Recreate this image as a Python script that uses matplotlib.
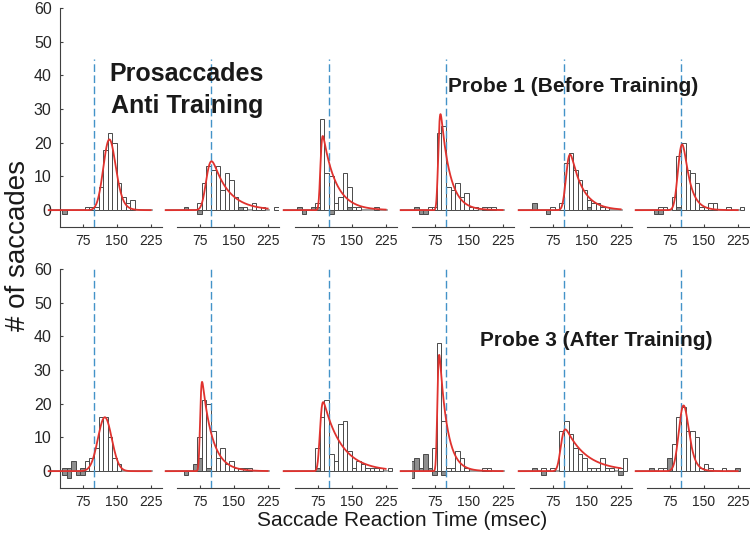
import math
import numpy as np
import matplotlib
matplotlib.use('Agg')
import matplotlib.pyplot as plt

plt.rcParams['font.family'] = ['Liberation Sans', 'DejaVu Sans']

# 10 ms bins, left edges 20..240
bin_left = np.arange(20, 250, 10)
cue_ms = 100
x_ticks = [75, 150, 225]
y_ticks = [0, 10, 20, 30, 40, 50, 60]

# correct saccades (open bars), one list per panel, left to right
white_top = [
    [0, 0, 0, 0, 0, 0, 1, 1, 1, 7, 18, 23, 20, 8, 4, 2, 3, 0, 0, 0, 0, 0, 0],
    [0, 0, 0, 0, 0, 2, 8, 13, 12, 13, 6, 11, 9, 4, 1, 1, 0, 2, 1, 1, 0, 0, 1],
    [0, 0, 0, 0, 0, 2, 27, 11, 10, 2, 4, 11, 7, 1, 1, 0, 0, 0, 1, 0, 0, 0, 0],
    [0, 0, 0, 0, 1, 1, 23, 25, 7, 6, 8, 4, 5, 1, 1, 0, 1, 1, 1, 0, 0, 0, 0],
    [0, 0, 0, 0, 0, 1, 0, 2, 14, 17, 12, 9, 6, 3, 2, 2, 1, 1, 0, 0, 0, 0, 0],
    [0, 0, 0, 1, 1, 0, 4, 16, 20, 12, 11, 8, 1, 1, 2, 2, 0, 0, 1, 0, 0, 1, 0],
]
white_bottom = [
    [0, 0, 0, 0, 0, 0, 3, 4, 7, 16, 16, 10, 4, 2, 0, 0, 0, 0, 0, 0, 0, 0, 0],
    [0, 0, 0, 0, 0, 10, 21, 20, 12, 4, 7, 2, 3, 1, 1, 1, 1, 0, 0, 0, 0, 0, 0],
    [0, 0, 0, 0, 0, 7, 16, 21, 5, 3, 14, 15, 6, 1, 3, 2, 1, 1, 1, 1, 0, 1, 0],
    [0, 0, 0, 0, 0, 7, 38, 15, 1, 1, 6, 4, 1, 0, 0, 0, 1, 1, 0, 0, 0, 0, 0],
    [0, 0, 0, 1, 0, 1, 0, 12, 15, 11, 7, 5, 4, 1, 1, 1, 4, 1, 1, 0, 1, 4, 0],
    [0, 0, 0, 1, 1, 0, 8, 16, 19, 12, 12, 10, 1, 2, 1, 0, 0, 1, 0, 0, 0, 0, 0],
]

# error saccades (grey bars) as (bin left edge, count)
gray_top = [
    [(30, -1)],
    [(40, 1), (70, -1), (160, 1)],
    [(30, 1), (40, -1), (60, 1), (70, 1), (100, -1), (140, 1)],
    [(30, 1), (40, -1), (50, -1)],
    [(30, 2), (60, -1), (150, 1)],
    [(40, -1), (50, -1), (90, 1)],
]
gray_bottom = [
    [(30, 1), (30, -1), (40, 1), (40, -2), (50, 3), (60, -1), (70, 1), (70, -1)],
    [(40, -1), (60, 2), (70, 4), (90, 1)],
    [(70, 1)],
    [(20, 3), (20, -2), (30, 4), (40, 1), (50, 5), (60, 1), (70, -1), (90, -1)],
    [(30, 1), (50, -1), (220, -1)],
    [(30, 1), (70, 4), (220, 1)],
]

# ex-Gaussian fits: mu, sigma, tau (ms) and peak height
fit_mu_top = [127, 90, 81, 83, 105, 95]
fit_sigma_top = [12, 8, 3, 3, 6, 7]
fit_tau_top = [9, 35, 28, 20, 26, 15]
fit_peak_top = [21, 14.5, 22, 28.5, 16.5, 19.5]
fit_mu_bottom = [121, 76, 80, 81, 93, 99]
fit_sigma_bottom = [15, 2.5, 4, 2.5, 6, 9]
fit_tau_bottom = [3, 22, 40, 17, 45, 10]
fit_peak_bottom = [16, 26.5, 20.5, 34.5, 12.4, 19.5]


def exgauss(x, mu, sigma, tau):
    erfc = np.vectorize(math.erfc)
    arg = (mu - x) / tau + sigma ** 2 / (2 * tau ** 2)
    return np.exp(arg) * erfc((mu + sigma ** 2 / tau - x) / (math.sqrt(2) * sigma))


W, H = 750, 543
fig = plt.figure(figsize=(W / 100, H / 100), dpi=100)

lefts = [60, 177, 295, 412, 530, 647]
row_bottom = [316, 55]
rows = [
    (white_top, gray_top, fit_mu_top, fit_sigma_top, fit_tau_top, fit_peak_top, 45),
    (white_bottom, gray_bottom, fit_mu_bottom, fit_sigma_bottom, fit_tau_bottom, fit_peak_bottom, 60),
]

xs = np.linspace(0, 225, 500)
for r, (whites, grays, mus, sigmas, taus, peaks, cue_top) in enumerate(rows):
    for c in range(6):
        ax = fig.add_axes([lefts[c] / W, row_bottom[r] / H, 102 / W, 219 / H])
        ax.set_xlim(25, 250)
        ax.set_ylim(-5, 60)
        ax.patch.set_alpha(0)

        ax.plot([0, 228], [0, 0], color='#8c8c8c', lw=1.2, clip_on=False, zorder=1)

        w = np.array(whites[c])
        keep = w != 0
        ax.bar(bin_left[keep], w[keep], width=10, align='edge', color='white',
               edgecolor='#4a4a4a', lw=0.7, zorder=2)
        gx = [b for b, v in grays[c]]
        gv = [v for b, v in grays[c]]
        ax.bar(gx, gv, width=10, align='edge', color='#8e8e8e',
               edgecolor='#4a4a4a', lw=0.7, zorder=3)

        ax.plot([cue_ms, cue_ms], [-5, cue_top], color='#4393c8', lw=1.0,
                ls=(0, (5.5, 2.5)), zorder=4)

        y = exgauss(xs, mus[c], sigmas[c], taus[c])
        y = y / y.max() * peaks[c]
        ax.plot(xs, y, color='#e0322e', lw=1.3, clip_on=False, zorder=5)

        for s in ['top', 'right']:
            ax.spines[s].set_visible(False)
        ax.spines['bottom'].set_color('#404040')
        ax.spines['left'].set_color('#404040')
        ax.set_xticks(x_ticks)
        ax.tick_params(axis='x', direction='in', length=2, pad=5,
                       labelsize=10, colors='#404040', labelcolor='#262626')
        if c == 0:
            ax.set_yticks(y_ticks)
            ax.tick_params(axis='y', direction='in', length=2, pad=6,
                           labelsize=11.5, colors='#404040', labelcolor='#262626')
        else:
            ax.spines['left'].set_visible(False)
            ax.set_yticks([])

fig.text(187 / W, 1 - 90 / H, 'Prosaccades\nAnti Training', ha='center', va='center',
         fontsize=18, fontweight='bold', linespacing=1.45, color='#1a1a1a')
fig.text(573 / W, 1 - 87 / H, 'Probe 1 (Before Training)', ha='center', va='center',
         fontsize=15, fontweight='bold', color='#1a1a1a')
fig.text(596 / W, 1 - 341 / H, 'Probe 3 (After Training)', ha='center', va='center',
         fontsize=15, fontweight='bold', color='#1a1a1a')
fig.text(18 / W, 1 - 245 / H, '# of saccades', rotation=90, ha='center', va='center',
         fontsize=20, color='#1a1a1a')
fig.text(402 / W, 1 - 520 / H, 'Saccade Reaction Time (msec)', ha='center', va='center',
         fontsize=15, color='#1a1a1a')

fig.savefig('out.png', dpi=100)
